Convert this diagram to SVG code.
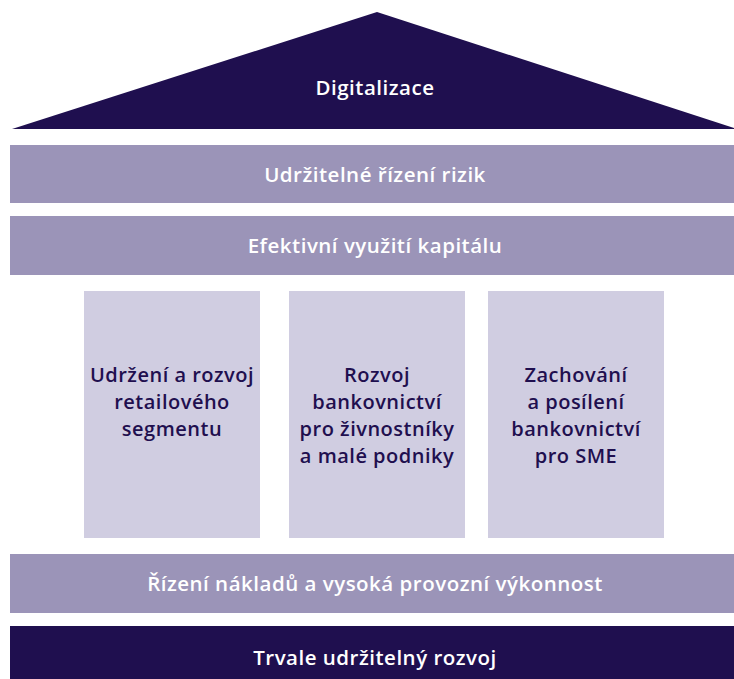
<svg xmlns="http://www.w3.org/2000/svg" width="734" height="679" viewBox="0 0 734 679">
<style>
.dark{fill:#1f0f4f}
.band{fill:#9b94b8}
.col{fill:#d0cde1}
.wt{fill:#ffffff;font-family:"Open Sans","Liberation Sans",sans-serif;font-weight:600;font-size:20.5px;letter-spacing:0.5px;text-anchor:middle}
.dt{fill:#1f0f4f;font-family:"Open Sans","Liberation Sans",sans-serif;font-weight:600;font-size:20px;letter-spacing:0.5px;text-anchor:middle}
</style>
<rect width="734" height="679" fill="#ffffff"/>
<g id="roof"><polygon class="dark" points="377,12 734,128 734,129 12,129"/><text class="wt" x="375" y="95">Digitalizace</text></g>
<g id="risk"><rect class="band" x="10" y="145" width="724" height="58"/><text class="wt" x="375" y="182">Udržitelné řízení rizik</text></g>
<g id="capital"><rect class="band" x="10" y="216" width="724" height="59"/><text class="wt" x="375" y="253">Efektivní využití kapitálu</text></g>
<g id="retail"><rect class="col" x="84" y="291" width="176" height="247"/><text class="dt" x="172" y="382">Udržení a rozvoj</text><text class="dt" x="172" y="409">retailového</text><text class="dt" x="172" y="436">segmentu</text></g>
<g id="small"><rect class="col" x="289" y="291" width="176" height="247"/><text class="dt" x="377" y="382">Rozvoj</text><text class="dt" x="377" y="409">bankovnictví</text><text class="dt" x="377" y="436">pro živnostníky</text><text class="dt" x="377" y="463">a malé podniky</text></g>
<g id="sme"><rect class="col" x="488" y="291" width="176" height="247"/><text class="dt" x="576" y="382">Zachování</text><text class="dt" x="576" y="409">a posílení</text><text class="dt" x="576" y="436">bankovnictví</text><text class="dt" x="576" y="463">pro SME</text></g>
<g id="costs"><rect class="band" x="10" y="554" width="724" height="59"/><text class="wt" x="375" y="591">Řízení nákladů a vysoká provozní výkonnost</text></g>
<g id="base"><rect class="dark" x="10" y="626" width="724" height="53"/><text class="wt" x="375" y="665">Trvale udržitelný rozvoj</text></g>
<g id="connectors"/>
</svg>
